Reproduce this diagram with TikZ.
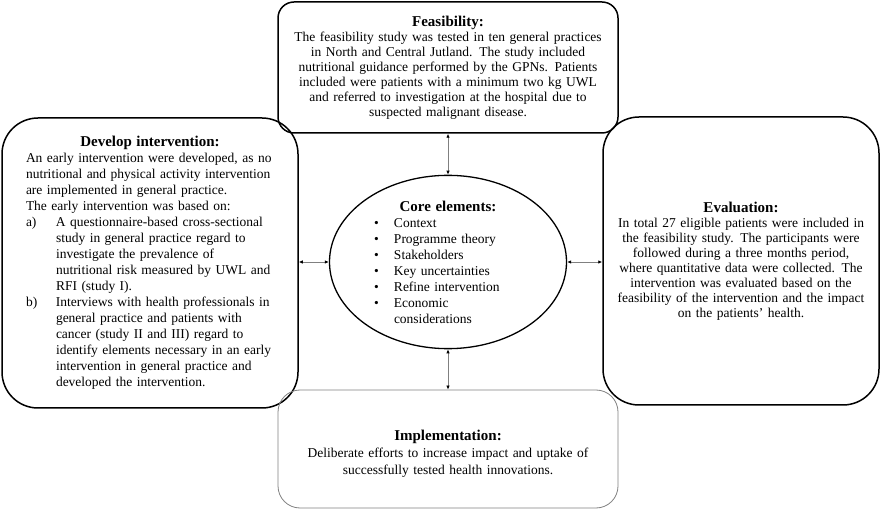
\documentclass[tikz,border=0pt]{standalone}
\usepackage{fontspec}
\setmainfont{Liberation Serif}
\usetikzlibrary{positioning, shapes.geometric, arrows.meta}

\newcommand{\boxhead}[1]{{\fontsize{15}{17}\selectfont\bfseries #1}}
\newcommand{\listlabel}[2]{\hangindent=#1\hangafter=1\makebox[#1][l]{#2}}

\begin{document}
\begin{tikzpicture}[x=1pt, y=-1pt,
		phase/.style={draw, line width=1.5pt, rounded corners=#1, inner sep=0pt},
		link/.style={draw=gray, line width=0.9pt,
			{Latex[length=4pt,width=3.5pt,black]}-{Latex[length=4pt,width=3.5pt,black]}}]
	\useasboundingbox (0,0) rectangle (881,510);
	% the four phases round the core
	\node[phase=16, minimum width=340, minimum height=131, text width=330, align=center,
		font=\fontsize{13.5}{15}\selectfont] (feas) at (448,67.5)
	{\boxhead{Feasibility:}\\
		The feasibility study was tested in ten general practices\\
		in North and Central Jutland. The study included\\
		nutritional guidance performed by the GPNs. Patients\\
		included were patients with a minimum two kg UWL\\
		and referred to investigation at the hospital due to\\
		suspected malignant disease.};
	\node[phase=36, minimum width=296, minimum height=290, text width=248,
		font=\fontsize{13.5}{16}\selectfont] (dev) at (150,263)
	{{\centering\boxhead{Develop intervention:}\par}
		\raggedright
		An early intervention were developed, as no\newline
		nutritional and physical activity intervention\newline
		are implemented in general practice.\par
		The early intervention was based on:\par
		\listlabel{30pt}{a)}A questionnaire-based cross-sectional\newline
		study in general practice regard to\newline
		investigate the prevalence of\newline
		nutritional risk measured by UWL and\newline
		RFI (study I).\par
		\listlabel{30pt}{b)}Interviews with health professionals in\newline
		general practice and patients with\newline
		cancer (study II and III) regard to\newline
		identify elements necessary in an early\newline
		intervention in general practice and\newline
		developed the intervention.\par};
	\node[phase=36, minimum width=276, minimum height=288, text width=268, align=center,
		font=\fontsize{13.5}{15}\selectfont] (eval) at (741,261)
	{\boxhead{Evaluation:}\\
		In total 27 eligible patients were included in\\
		the feasibility study. The participants were\\
		followed during a three months period,\\
		where quantitative data were collected. The\\
		intervention was evaluated based on the\\
		feasibility of the intervention and the impact\\
		on the patients' health.};
	\node[draw=gray, line width=0.8pt, rounded corners=22, inner sep=0pt,
		minimum width=340, minimum height=118, text width=330, align=center,
		font=\fontsize{13.5}{17}\selectfont] (impl) at (448,449)
	{\rule{0pt}{20pt}\boxhead{Implementation:}\\
		Deliberate efforts to increase impact and uptake of\\
		successfully tested health innovations.};
	% core elements
	\node[ellipse, draw, line width=1.3pt, inner sep=0pt, minimum width=237,
		minimum height=173, text width=148,
		font=\fontsize{13.5}{16}\selectfont] (core) at (448,262)
	{{\centering\boxhead{Core elements:}\par}
		\raggedright
		\listlabel{20pt}{\textbullet}Context\par
		\listlabel{20pt}{\textbullet}Programme theory\par
		\listlabel{20pt}{\textbullet}Stakeholders\par
		\listlabel{20pt}{\textbullet}Key uncertainties\par
		\listlabel{20pt}{\textbullet}Refine intervention\par
		\listlabel{20pt}{\textbullet}Economic\newline considerations\par};
	\draw[link] (feas) -- (core);
	\draw[link] (core) -- (impl);
	\draw[link] (core.west) -- (core.west -| dev.east);
	\draw[link] (core.east) -- (core.east -| eval.west);
\end{tikzpicture}
\end{document}
